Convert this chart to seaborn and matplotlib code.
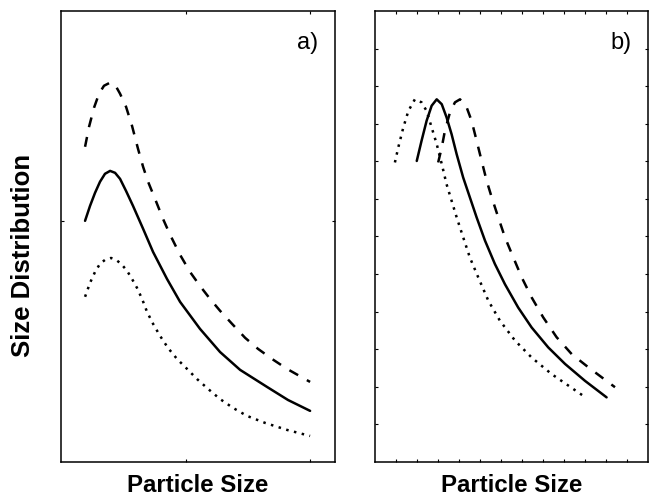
import numpy as np
import matplotlib
matplotlib.use("Agg")
import matplotlib.pyplot as plt
import seaborn as sns

# panel a) - three distributions peaking at the same size, different heights
a_solid_x = [1.93, 2.33, 2.73, 3.13, 3.53, 3.94, 4.34, 4.74, 5.22, 5.78, 6.59, 7.39, 8.51,
             9.56, 11.16, 12.77, 14.38, 16.55, 18.23, 20.0]
a_solid_y = [10.0, 10.62, 11.16, 11.62, 11.95, 12.07, 11.99, 11.74, 11.24, 10.62, 9.67, 8.71,
             7.59, 6.64, 5.52, 4.56, 3.82, 3.11, 2.57, 2.12]

a_dash_x = [1.93, 2.25, 2.65, 3.05, 3.45, 3.94, 4.34, 4.74, 5.22, 5.70, 6.18, 6.59, 6.99, 7.55,
            8.19, 8.76, 9.56, 10.36, 11.16, 11.97, 12.77, 13.73, 14.78, 15.82, 16.95, 18.15, 20.0]
a_dash_y = [13.07, 13.90, 14.69, 15.27, 15.60, 15.73, 15.64, 15.27, 14.73, 13.94, 12.99, 12.24,
            11.62, 10.91, 10.08, 9.42, 8.59, 7.88, 7.30, 6.76, 6.27, 5.73, 5.15, 4.69, 4.27, 3.86, 3.32]

a_dot_x = [1.93, 2.33, 2.73, 3.13, 3.53, 4.02, 4.42, 4.82, 5.30, 5.70, 6.10, 6.51, 6.91, 7.39,
           7.95, 8.59, 9.32, 10.12, 10.92, 11.81, 12.77, 13.82, 14.94, 16.39, 18.15, 20.0]
a_dot_y = [6.85, 7.43, 7.88, 8.22, 8.38, 8.46, 8.38, 8.22, 7.93, 7.59, 7.22, 6.76, 6.22, 5.73,
           5.23, 4.73, 4.27, 3.86, 3.44, 3.03, 2.61, 2.24, 1.91, 1.62, 1.33, 1.08]

# panel b) - same height, peaks shifted along the size axis
b_dot_x = [0.95, 1.11, 1.35, 1.59, 1.90, 2.22, 2.46, 2.70, 2.94, 3.18, 3.41, 3.65, 3.89, 4.20,
           4.52, 4.92, 5.40, 5.95, 6.67, 7.46, 8.41, 9.92]
b_dot_y = [7.97, 8.37, 8.90, 9.34, 9.65, 9.57, 9.34, 8.90, 8.46, 7.93, 7.39, 6.95, 6.51, 5.98,
           5.44, 4.91, 4.29, 3.76, 3.23, 2.78, 2.34, 1.76]

b_solid_x = [1.99, 2.22, 2.46, 2.70, 2.94, 3.18, 3.41, 3.65, 3.89, 4.20, 4.52, 4.84, 5.24, 5.71,
             6.19, 6.82, 7.46, 8.25, 9.05, 10.0, 11.03]
b_solid_y = [8.01, 8.55, 9.08, 9.48, 9.65, 9.52, 9.17, 8.72, 8.19, 7.57, 7.04, 6.51, 5.89, 5.27,
             4.73, 4.11, 3.58, 3.05, 2.61, 2.16, 1.72]

b_dash_x = [3.01, 3.18, 3.33, 3.57, 3.81, 4.05, 4.37, 4.60, 4.84, 5.08, 5.32, 5.56, 5.87, 6.19,
            6.59, 6.99, 7.46, 8.01, 8.65, 9.37, 10.16, 11.43]
b_dash_y = [7.97, 8.37, 8.81, 9.30, 9.57, 9.65, 9.43, 9.08, 8.55, 8.01, 7.48, 7.04, 6.51, 5.98,
            5.44, 4.91, 4.38, 3.85, 3.32, 2.87, 2.52, 1.99]

sns.set_style("ticks")
plt.rcParams['font.family'] = ['Liberation Sans', 'DejaVu Sans']
plt.rcParams['text.color'] = 'black'
plt.rcParams['axes.labelcolor'] = 'black'

fig = plt.figure(figsize=(6.52, 5.02), dpi=100)
ax_a = fig.add_axes([0.0936, 0.0777, 0.4202, 0.8984])
ax_b = fig.add_axes([0.5751, 0.0777, 0.4187, 0.8984])

lw = 1.8
dash = (0, (4, 4))
dot = (0, (1, 2.2))

sns.lineplot(x=a_dash_x, y=a_dash_y, ax=ax_a, color='black', lw=lw, linestyle=dash, sort=False)
sns.lineplot(x=a_solid_x, y=a_solid_y, ax=ax_a, color='black', lw=lw, sort=False)
sns.lineplot(x=a_dot_x, y=a_dot_y, ax=ax_a, color='black', lw=lw, linestyle=dot, sort=False)

sns.lineplot(x=b_dash_x, y=b_dash_y, ax=ax_b, color='black', lw=lw, linestyle=dash, sort=False)
sns.lineplot(x=b_solid_x, y=b_solid_y, ax=ax_b, color='black', lw=lw, sort=False)
sns.lineplot(x=b_dot_x, y=b_dot_y, ax=ax_b, color='black', lw=lw, linestyle=dot, sort=False)

ax_a.set_xlim(0, 22)
ax_a.set_ylim(0, 18.7)
ax_a.set_xticks([10, 20])
ax_a.set_yticks([10])

ax_b.set_xlim(0, 13)
ax_b.set_ylim(0, 12)
ax_b.set_xticks(np.arange(1, 13))
ax_b.set_yticks(np.arange(1, 12))

for ax, tag in [(ax_a, 'a)'), (ax_b, 'b)')]:
    ax.tick_params(direction='in', length=2, width=0.8, top=True, right=True,
                   labelbottom=False, labelleft=False, color='black')
    for s in ax.spines.values():
        s.set_visible(True)
        s.set_linewidth(1.1)
        s.set_color('black')
    ax.set_xlabel('Particle Size', fontsize=17.3, fontweight='bold', labelpad=8)
    ax.set_ylabel('')
    ax.text(0.9, 0.931, tag, transform=ax.transAxes, fontsize=17,
            ha='center', va='center')

fig.text(0.035, 0.492, 'Size Distribution', rotation=90, fontsize=18.5,
         fontweight='bold', ha='center', va='center')

fig.savefig('out.png', dpi=100)
